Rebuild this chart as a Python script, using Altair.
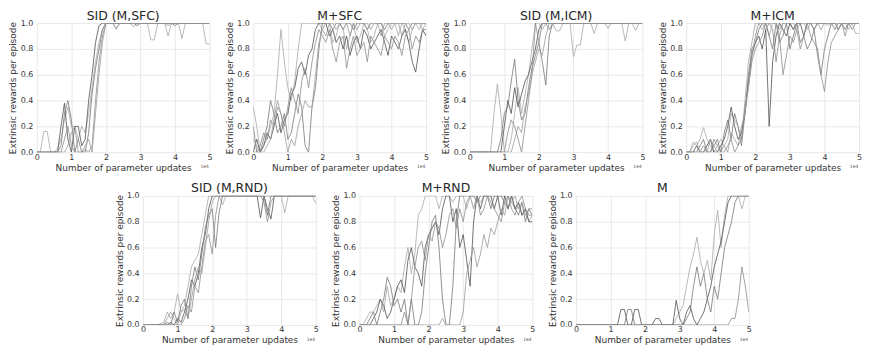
import altair as alt
import pandas as pd

STEPS = [0.0, 0.1, 0.2, 0.3, 0.4, 0.5, 0.6, 0.7, 0.8, 0.9,
         1.0, 1.1, 1.2, 1.3, 1.4, 1.5, 1.6, 1.7, 1.8, 1.9,
         2.0, 2.1, 2.2, 2.3, 2.4, 2.5, 2.6, 2.7, 2.8, 2.9,
         3.0, 3.1, 3.2, 3.3, 3.4, 3.5, 3.6, 3.7, 3.8, 3.9,
         4.0, 4.1, 4.2, 4.3, 4.4, 4.5, 4.6, 4.7, 4.8, 4.9,
         5.0]

RUN_COLORS = ["#a8a8a8", "#505050", "#777777", "#8c8c8c", "#9a9a9a"]

X_TICKS = [0, 1, 2, 3, 4, 5]
Y_TICKS = [0.0, 0.2, 0.4, 0.6, 0.8, 1.0]

TITLES = ["SID (M,SFC)", "M+SFC", "SID (M,ICM)", "M+ICM", "SID (M,RND)", "M+RND", "M"]

SID_SFC = [
    [0,0,0.16,0.16,0,0,0.03,0.1,0.25,0.35, 0.2,0.2,0.1,0.2,0.15,0.3,0.5,0.7,0.85,0.95, 1,1,1,0.95,1,1,1,1,0.97,1, 1,1,1,0.87,0.87,1,1,1,0.9,1, 1,1,0.88,1,1,1,1,1,1,0.84, 0.84],
    [0,0,0,0,0,0,0,0.2,0.38,0.1, 0,0.2,0.2,0.05,0.1,0.4,0.6,0.85,0.98,1, 1,1,1,1,1,1,1,1,1,1, 1,1,1,1,1,1,1,1,1,1, 1,1,1,1,1,1,1,1,1,1, 1],
    [0,0,0,0,0,0,0,0.05,0.3,0.4, 0.25,0,0.1,0,0,0.15,0.45,0.65,0.8,0.95, 1,1,1,1,1,1,1,1,1,0.98, 1,1,1,1,1,1,1,1,1,1, 0.98,1,1,1,1,1,1,1,1,1, 1],
    [0,0,0,0,0,0,0,0,0.1,0.2, 0.05,0,0,0,0.02,0,0.05,0.4,0.7,0.9, 1,1,1,1,1,1,1,1,1,1, 1,1,1,1,1,1,1,1,1,1, 1,1,1,1,1,1,1,1,1,1, 1],
    [0,0,0,0,0,0,0,0,0,0.05, 0.15,0.2,0,0,0.05,0.1,0,0.3,0.6,0.85, 1,1,1,0.96,1,1,1,1,1,1, 1,1,1,1,1,1,1,1,0.98,1, 1,1,1,1,1,1,1,1,1,1, 1],
]

M_SFC = [
    [0.35,0.2,0,0.05,0.1,0.2,0.3,0.6,0.95,0.7, 0.5,0.4,0.55,0.8,1,1,1,1,1,1, 0.95,0.9,1,0.85,0.9,1,0.95,0.8,0.9,1, 0.85,0.9,1,0.95,0.85,0.9,1,1,0.9,0.95, 1,1,0.9,1,0.95,0.85,0.95,1,0.95,1, 1],
    [0,0.1,0,0.05,0.15,0.1,0.2,0.3,0.15,0.25, 0.3,0.45,0.5,0.65,0.7,0.6,0.75,0.8,0.95,1, 1,1,0.9,0.95,0.85,0.9,0.8,0.9,0.75,0.85, 0.9,0.8,0.95,0.9,0.8,0.85,0.9,0.95,0.85,0.75, 0.9,0.85,0.8,0.9,0.95,0.85,0.7,0.62,0.8,0.95, 0.9],
    [0.2,0,0,0.1,0.2,0.4,0.3,0.15,0.2,0.3, 0.1,0.15,0.3,0.45,0.35,0.05,0,0.35,0.5,0.8, 1,1,1,0.95,1,1,0.95,1,1,0.95, 1,1,1,0.95,1,1,1,1,0.95,1, 1,1,1,1,1,0.95,1,1,1,1, 1],
    [0,0,0.05,0.15,0.1,0.25,0.2,0.35,0.3,0.2, 0.35,0.5,0.4,0.3,0.55,0.65,0.5,0.7,0.85,0.95, 0.9,0.85,0.95,0.8,0.7,0.85,0.9,0.65,0.8,0.9, 0.75,0.8,0.85,0.7,0.9,0.85,0.8,0.75,0.9,0.85, 0.8,0.9,0.85,0.75,0.9,0.95,0.8,0.9,0.85,0.95, 0.95],
    [0.1,0.05,0,0,0.05,0.1,0.25,0.4,0.3,0.15, 0,0.1,0.05,0.2,0.3,0.4,0.35,0.35,0.6,0.85, 0.95,1,1,1,0.95,1,1,1,0.9,1, 0.95,1,1,1,0.95,1,1,0.9,1,1, 0.95,1,1,0.9,1,1,0.95,1,1,0.95, 1],
]

SID_ICM = [
    [0,0,0,0,0,0,0,0.3,0.53,0.3, 0,0,0.1,0.3,0.5,0.3,0.45,0.6,0.8,1, 1,0.95,1,1,1,0.94,0.94,1,1,1, 0.74,0.83,0.83,1,1,1,0.92,1,1,1, 0.96,1,1,1,1,0.86,1,1,0.94,1, 1],
    [0,0,0,0,0,0,0,0,0,0, 0.2,0.4,0.3,0.5,0.35,0.45,0.55,0.6,0.7,0.8, 0.95,1,1,1,1,1,1,1,1,1, 1,1,1,1,1,1,1,1,1,1, 1,1,1,1,1,1,1,1,1,1, 1],
    [0,0,0,0,0,0,0,0,0,0.1, 0.3,0.35,0.55,0.72,0.4,0.25,0.3,0.5,0.65,0.75, 0.85,0.7,0.52,0.9,1,1,1,1,1,1, 1,1,1,1,1,1,1,1,1,1, 1,1,1,1,1,1,1,1,1,1, 1],
    [0,0,0,0,0,0,0,0,0,0, 0,0.15,0.25,0.2,0.1,0,0.2,0.4,0.6,1, 0.85,1,1,0.95,1,1,1,1,1,1, 1,1,1,1,1,1,1,1,1,1, 1,1,1,1,1,1,1,1,1,1, 1],
    [0,0,0,0,0,0,0,0,0,0, 0,0,0,0.1,0.2,0.15,0.35,0.45,0.6,0.7, 0.8,0.75,0.9,1,1,1,1,1,1,1, 1,1,1,1,1,1,1,1,1,1, 1,1,1,1,1,1,1,1,1,1, 1],
]

M_ICM = [
    [0,0,0.08,0.05,0.1,0.19,0.1,0.05,0,0.05, 0.1,0.05,0.1,0.3,0.25,0.2,0.1,0.4,0.7,0.85, 1,1,0.95,1,0.9,1,1,0.95,1,1, 1,0.95,1,1,1,0.95,1,1,1,1, 1,0.98,1,1,1,1,1,0.95,1,0.92, 0.92],
    [0,0,0,0.05,0,0,0.05,0.1,0,0, 0.05,0.1,0.2,0.35,0.2,0.1,0.15,0.3,0.55,0.75, 0.85,0.9,0.8,0.95,0.2,0.7,0.9,1,0.95,0.9, 1,0.95,1,1,0.9,1,1,0.95,1,1, 1,1,1,1,0.95,1,1,1,1,1, 1],
    [0,0,0,0,0.05,0.1,0,0,0.05,0.1, 0,0.15,0.25,0.1,0.3,0.2,0.05,0.3,0.6,0.8, 0.85,0.95,1,1,0.9,0.8,1,0.85,0.9,1, 0.8,0.9,1,0.85,0.9,0.8,0.85,0.95,0.75,0.6, 0.8,0.9,1,0.95,1,1,0.95,1,1,1, 1],
    [0,0,0,0,0,0,0,0,0.1,0.05, 0,0,0.05,0.1,0,0.05,0.1,0.35,0.5,0.7, 0.8,0.85,0.9,1,1,0.95,0.7,0.9,0.6,0.75, 0.9,0.85,0.95,0.8,0.9,1,0.9,0.85,0.8,0.6, 0.47,0.7,0.85,0.9,0.95,1,0.9,1,0.95,1, 1],
    [0,0,0.05,0.08,0,0.05,0,0.1,0.05,0, 0,0.05,0,0.15,0.1,0.05,0.2,0.3,0.5,0.75, 0.9,1,1,0.95,1,1,1,0.9,1,1, 1,1,0.95,1,1,1,1,1,1,0.95, 1,1,1,1,0.95,1,1,1,1,1, 1],
]

SID_RND = [
    [0,0,0,0,0,0.01,0.02,0.1,0.05,0.1, 0.24,0.1,0.15,0.3,0.45,0.5,0.55,0.7,0.85,1, 1,1,1,0.93,1,1,1,1,1,1, 1,1,1,1,1,1,1,1,1,1, 1,0.87,1,1,1,1,1,1,1,1, 0.94],
    [0,0,0,0,0,0,0,0,0.02,0, 0.05,0.02,0.1,0.2,0.35,0.3,0.4,0.6,0.7,0.9, 1,1,1,1,1,1,1,1,1,1, 1,1,1,1,0.83,1,0.9,0.82,1,1, 1,1,1,1,1,1,1,1,1,1, 1],
    [0,0,0,0,0,0,0,0.02,0,0.1, 0.02,0.15,0.2,0.05,0.3,0.45,0.35,0.55,0.75,0.85, 0.9,0.6,0.87,1,1,1,1,1,1,1, 1,1,1,1,1,1,0.85,1,1,1, 1,1,1,1,1,1,1,1,1,1, 1],
    [0,0,0,0,0,0,0,0,0,0, 0,0,0.05,0.15,0.1,0.3,0.25,0.45,0.65,0.7, 0.55,0.85,1,1,1,1,1,1,1,1, 1,1,1,1,1,0.95,0.8,0.95,1,1, 1,1,1,1,1,1,1,1,1,1, 1],
    [0,0,0,0,0,0,0,0.05,0.1,0.05, 0,0.1,0.12,0.05,0.2,0.35,0.45,0.4,0.6,0.8, 0.95,1,1,1,1,1,1,1,1,1, 1,1,1,1,1,1,1,1,1,1, 1,1,1,1,1,1,1,1,1,1, 1],
]

M_RND = [
    [0,0,0.05,0.1,0.1,0.15,0.2,0.1,0.3,0.15, 0.2,0.3,0.25,0.45,0.6,0.4,0.55,0.85,0.9,1, 1,1,1,0.9,1,1,1,0.95,1,1, 1,0.9,1,1,1,0.95,1,1,1,1, 1,1,1,1,0.95,0.9,0.95,0.85,0.9,0.8, 0.85],
    [0,0,0,0,0.05,0.1,0.2,0.15,0.05,0.1, 0.2,0.3,0.35,0.25,0.5,0.6,0.45,0.4,0.3,0.6, 0.7,0.75,0.8,0.7,0.9,1,1,0.8,0.9,0.6, 0.7,0.5,0.3,0.8,1,0.9,1,1,1,0.9, 1,0.85,1,0.9,1,0.9,0.95,0.85,0.9,0.8, 0.8],
    [0,0,0,0.05,0.1,0,0.1,0.2,0.37,0.3, 0.15,0.2,0.1,0.2,0,0.2,0,0,0.1,0.4, 0.6,0.8,0.85,0.6,0.2,0,0,0.3,0.8,1, 1,1,1,1,0.95,1,1,1,0.9,1, 1,1,0.95,0.9,1,0.9,0.85,0.95,0.8,0.9, 0.85],
    [0,0,0,0,0,0,0,0,0,0, 0,0,0,0.1,0,0.2,0.45,0.6,0.65,0.5, 0.7,0.65,0.8,0.75,0.6,0.7,0.85,0.9,0.75,0.9, 0.8,0.95,1,0.9,1,0.85,0.9,1,0.95,0.9, 0.85,0.8,0.95,1,0.9,0.85,0.95,1,0.9,0.85, 0.85],
    [0,0,0,0,0,0,0,0,0,0, 0,0,0,0,0,0,0,0,0,0, 0,0,0,0,0.05,0,0,0,0,0, 0.1,0.4,0.5,0.6,0.45,0.55,0.7,0.6,0.75,0.7, 0.8,0.9,0.85,1,0.95,1,0.9,0.95,0.85,0.9, 0.9],
]

M_ONLY = [
    [0,0,0,0,0,0,0,0,0,0, 0,0,0,0,0,0,0,0,0,0, 0,0,0,0,0,0,0,0,0,0.05, 0.1,0.15,0.3,0.45,0.55,0.68,0.5,0.4,0.5,0.35, 0.7,0.89,0.6,0.85,1,1,1,1,0.9,1, 1],
    [0,0,0,0,0,0,0,0,0,0, 0,0,0,0.12,0.12,0,0,0.12,0.12,0, 0,0,0,0.05,0.05,0,0,0,0,0.19, 0.05,0,0.1,0.15,0.05,0,0.05,0.1,0.2,0.3, 0.45,0.55,0.65,0.8,0.95,1,1,1,1,1, 1],
    [0,0,0,0,0,0,0,0,0,0, 0,0,0,0,0,0.12,0.12,0,0,0, 0,0,0,0,0,0,0,0,0,0, 0,0,0.05,0.1,0.3,0.45,0.3,0.4,0.2,0.1, 0.3,0.2,0.4,0.6,0.7,0.8,0.95,1,1,1, 1],
    [0,0,0,0,0,0,0,0,0,0, 0,0,0,0,0,0,0,0,0,0, 0,0,0,0,0,0,0,0,0,0, 0,0,0,0,0,0,0,0,0,0, 0,0,0,0,0,0.05,0.05,0.2,0.45,0.3, 0.1],
]

PANEL_DATA = [SID_SFC, M_SFC, SID_ICM, M_ICM, SID_RND, M_RND, M_ONLY]

W, H = 174, 130
FONT = "DejaVu Sans"


def panel(title, runs):
    rows = []
    for k, vals in enumerate(runs):
        for x, y in zip(STEPS, vals):
            rows.append({"x": x, "y": y, "run": f"r{k}"})
    df = pd.DataFrame(rows)
    run_names = [f"r{k}" for k in range(len(runs))]
    lines = alt.Chart(df).mark_line(strokeWidth=0.8, clip=True).encode(
        x=alt.X("x:Q", scale=alt.Scale(domain=[0, 5], nice=False, zero=False),
                axis=alt.Axis(values=X_TICKS, format="d", title="Number of parameter updates",
                              labelPadding=1, titlePadding=2, labelFlush=False)),
        y=alt.Y("y:Q", scale=alt.Scale(domain=[0, 1], nice=False, zero=False),
                axis=alt.Axis(values=Y_TICKS, format=".1f", title="Extrinsic rewards per episode",
                              labelPadding=4, titlePadding=2, minExtent=17, maxExtent=17)),
        color=alt.Color("run:N", scale=alt.Scale(domain=run_names, range=RUN_COLORS[:len(runs)]),
                        legend=None),
        order=alt.Order("run:N"),
    )
    offset = alt.Chart(pd.DataFrame({"t": ["1e4"]})).mark_text(
        fontSize=4.5, font=FONT, color="#555555", align="center", baseline="middle"
    ).encode(text="t:N", x=alt.value(W - 5), y=alt.value(H + 15))
    return alt.layer(lines, offset).properties(
        width=W, height=H,
        title=alt.TitleParams(title, fontSize=12.5, font=FONT, fontWeight="normal",
                              color="#262626", offset=-3),
    )


panels = [panel(t, d) for t, d in zip(TITLES, PANEL_DATA)]

spacer = alt.Chart(pd.DataFrame({"a": [0]})).mark_point(opacity=0).encode(
    x=alt.value(0), y=alt.value(0)
).properties(width=63, height=H)

row1 = alt.hconcat(*panels[:4], spacing=44, bounds="flush")
row2 = alt.hconcat(spacer, *panels[4:], spacing=44, bounds="flush")

chart = alt.vconcat(row1, row2, spacing=10).properties(
    padding={"left": 0, "top": 0, "right": 0, "bottom": 0}
).configure_view(strokeWidth=0).configure_axis(
    grid=True, gridColor="#e3e3e3", gridWidth=0.8, ticks=False, domain=False,
    labelFont=FONT, labelFontSize=8, labelColor="#333333",
    titleFont=FONT, titleFontSize=9, titleFontWeight="normal", titleColor="#333333",
)

chart.save("out.html", embed_options={"renderer": "svg", "actions": False})
